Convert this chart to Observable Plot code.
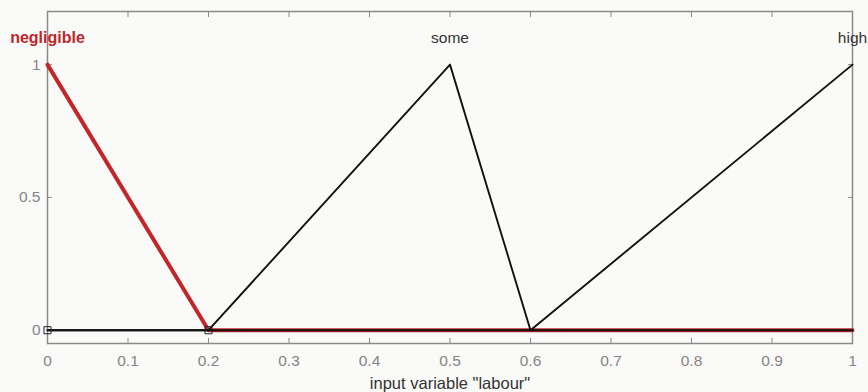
<!DOCTYPE html>
<html><head><meta charset="utf-8">
<script src="https://cdn.jsdelivr.net/npm/d3@7"></script>
<script src="https://cdn.jsdelivr.net/npm/@observablehq/plot@0.6"></script>
<style>
body{margin:0;background:#fafaf8;font-family:"Liberation Sans",Arial,sans-serif;}
</style></head><body><div id="c"></div>
<script>
const mfNames = ["negligible", "some", "high"];
const negligibleX = [0, 0.2, 1];
const negligibleY = [1, 0, 0];
const someX = [0, 0.2, 0.5, 0.6, 1];
const someY = [0, 0, 1, 0, 0];
const highX = [0, 0.6, 1];
const highY = [0, 0, 1];
const labelX = [0, 0.5, 1];
const labelY = [1.1, 1.1, 1.1];
const xTicks = [0, 0.1, 0.2, 0.3, 0.4, 0.5, 0.6, 0.7, 0.8, 0.9, 1];
const yTicks = [0, 0.5, 1];
const markerX = [0, 0.2];
const markerY = [0, 0];
const xLabel = "input variable \"labour\"";

const toPts = (xs, ys) => xs.map((x, i) => ({x, y: ys[i]}));
const labels = mfNames.map((n, i) => ({name: n, x: labelX[i], y: labelY[i]}));
const markers = toPts(markerX, markerY);
const blank = () => "";

const chart = Plot.plot({
  width: 868, height: 392,
  marginLeft: 47, marginRight: 16, marginTop: 11, marginBottom: 49,
  style: {background: "#fafaf8", fontFamily: "'Liberation Sans', Arial, sans-serif", fontSize: "14px", overflow: "visible"},
  x: {domain: [0, 1]},
  y: {domain: [-0.05, 1.2]},
  marks: [
    Plot.frame({stroke: "#8a8a8a", strokeWidth: 1.5}),
    Plot.axisX({anchor: "bottom", ticks: xTicks, tickSize: -5, tickPadding: 16, tickFormat: d => String(d), stroke: "#8a8a8a", fill: "#858585", fontSize: 15.5, label: null}),
    Plot.axisX({anchor: "top", ticks: xTicks, tickSize: -5, tickFormat: blank, stroke: "#8a8a8a", label: null}),
    Plot.axisY({anchor: "left", ticks: yTicks, tickSize: -5, tickPadding: 12, tickFormat: d => String(d), stroke: "#8a8a8a", fill: "#858585", fontSize: 15.5, label: null}),
    Plot.axisY({anchor: "right", ticks: yTicks, tickSize: -5, tickFormat: blank, stroke: "#8a8a8a", label: null}),
    Plot.line(toPts(negligibleX, negligibleY), {x: "x", y: "y", stroke: "#c0262a", strokeWidth: 4}),
    Plot.line(toPts(someX, someY), {x: "x", y: "y", stroke: "#111", strokeWidth: 1.9}),
    Plot.line(toPts(highX, highY), {x: "x", y: "y", stroke: "#111", strokeWidth: 1.9}),
    Plot.dot(markers, {x: "x", y: "y", symbol: "square", r: 4, stroke: "#222", fill: "none", strokeWidth: 1}),
    Plot.text(labels.filter(d => d.name === "negligible"), {x: "x", y: "y", text: "name", fontSize: 16, fill: "#c0262a", fontWeight: "bold"}),
    Plot.text(labels.filter(d => d.name !== "negligible"), {x: "x", y: "y", text: "name", fontSize: 15.5, fill: "#333"}),
    Plot.text([xLabel], {frameAnchor: "bottom", dy: 45, fontSize: 16.5, fill: "#333"})
  ]
});
document.getElementById("c").appendChild(chart);
</script></body></html>
